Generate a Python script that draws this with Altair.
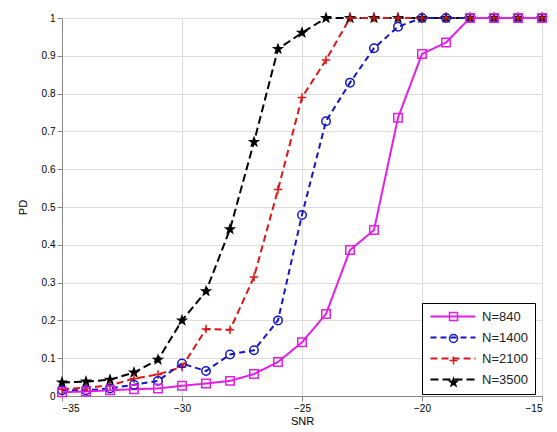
import altair as alt
import pandas as pd

snr = list(range(-35, -14))
series_names = ["N=840", "N=1400", "N=2100", "N=3500"]

pd_840 = [0.010, 0.012, 0.015, 0.018, 0.020, 0.027, 0.033, 0.040, 0.058, 0.090,
          0.142, 0.217, 0.386, 0.439, 0.736, 0.905, 0.935, 1.0, 1.0, 1.0, 1.0]
pd_1400 = [0.015, 0.015, 0.020, 0.030, 0.040, 0.086, 0.066, 0.110, 0.121, 0.200,
           0.479, 0.727, 0.829, 0.920, 0.977, 1.0, 1.0, 1.0, 1.0, 1.0, 1.0]
pd_2100 = [0.018, 0.022, 0.028, 0.046, 0.057, 0.077, 0.177, 0.175, 0.315, 0.546,
           0.790, 0.889, 1.0, 1.0, 1.0, 1.0, 1.0, 1.0, 1.0, 1.0, 1.0]
pd_3500 = [0.036, 0.038, 0.043, 0.062, 0.096, 0.200, 0.277, 0.441, 0.672, 0.918,
           0.961, 1.0, 1.0, 1.0, 1.0, 1.0, 1.0, 1.0, 1.0, 1.0, 1.0]

colors = ["#e41ee4", "#1414c8", "#e01414", "#000000"]
dashes = [[1, 0], [6, 4], [7, 4], [8, 4]]
star = ("M0,-1L0.235,-0.324L0.951,-0.309L0.38,0.124L0.588,0.809L0,0.4"
        "L-0.588,0.809L-0.38,0.124L-0.951,-0.309L-0.235,-0.324Z")
plus = "M-1,0L1,0M0,-1L0,1"
shapes = ["square", "circle", plus, star]
fills = ["transparent", "transparent", "transparent", "#000000"]

rows = []
for name, vals in [("N=3500", pd_3500), ("N=2100", pd_2100),
                   ("N=1400", pd_1400), ("N=840", pd_840)]:
    for s, v in zip(snr, vals):
        rows.append({"SNR": s, "PD": v, "series": name})
df = pd.DataFrame(rows)

x = alt.X("SNR:Q", scale=alt.Scale(domain=[-35, -15], nice=False),
          axis=alt.Axis(values=[-35, -30, -25, -20, -15], title="SNR",
                        titleFontWeight="normal", titleY=19))
y = alt.Y("PD:Q", scale=alt.Scale(domain=[0, 1], nice=False),
          axis=alt.Axis(values=[i / 10 for i in range(11)], format=".1~f", title="PD",
                        titleFontWeight="normal", titleX=-34))

leg_x = 360
leg_y = 285


def line_legend():
    return alt.Legend(orient="none", legendX=leg_x, legendY=leg_y,
                      title=None, symbolType="M-1,0L8,0",
                      symbolSize=100, symbolStrokeWidth=2,
                      labelOffset=40, labelFontSize=13,
                      labelFont="Liberation Sans", labelColor="#222",
                      rowPadding=7, padding=7,
                      fillColor="white", strokeColor="black", zindex=1)


def point_legend():
    return alt.Legend(orient="none", legendX=leg_x + 18, legendY=leg_y,
                      title=None, symbolSize=64, symbolStrokeWidth=1.5,
                      labelExpr="''", labelFontSize=13,
                      labelFont="Liberation Sans",
                      rowPadding=7, padding=7, zindex=2)


lines = alt.Chart(df).mark_line(strokeWidth=2).encode(
    x=x, y=y,
    color=alt.Color("series:N", scale=alt.Scale(domain=series_names, range=colors),
                    legend=line_legend()),
    strokeDash=alt.StrokeDash("series:N", scale=alt.Scale(domain=series_names, range=dashes),
                              legend=line_legend()),
    detail="series:N",
)

points = alt.Chart(df).mark_point(filled=False, size=72, strokeWidth=1.5, opacity=1).encode(
    x=x, y=y,
    color=alt.Color("series:N", scale=alt.Scale(domain=series_names, range=colors),
                    legend=point_legend()),
    shape=alt.Shape("series:N", scale=alt.Scale(domain=series_names, range=shapes),
                    legend=point_legend()),
    fill=alt.Fill("series:N", scale=alt.Scale(domain=series_names, range=fills),
                  legend=point_legend()),
)

chart = alt.layer(lines, points).resolve_scale(
    color="independent", shape="independent", fill="independent",
    strokeDash="independent",
).resolve_legend(
    color="independent", shape="independent", fill="independent",
    strokeDash="independent",
).properties(
    width=480, height=378,
    autosize=alt.AutoSizeParams(type="none"),
    padding={"left": 54, "top": 10, "right": 7, "bottom": 30},
).configure_view(stroke="black", strokeWidth=1).configure_axis(
    grid=True, gridColor="#000000", gridDash=[1, 3], gridOpacity=0.8, gridWidth=1,
    domainColor="black", ticks=False, labelFont="Liberation Sans", labelFontSize=12,
    labelColor="#222", titleFont="Liberation Sans", titleFontSize=12,
    titleFontWeight="normal", titleColor="#222",
).configure_axisX(labelPadding=5).configure_axisY(labelPadding=5).configure(
    background="white")

chart.save("out.html", embed_options={"renderer": "svg", "actions": False})
